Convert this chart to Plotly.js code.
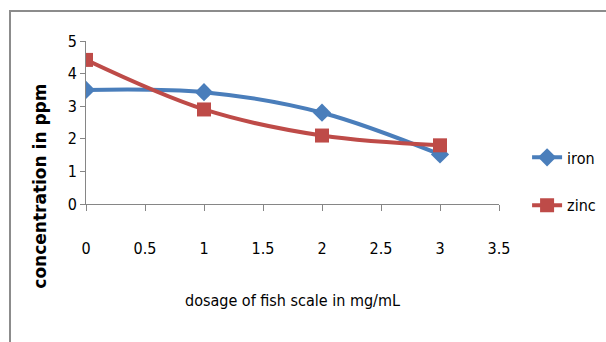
<!DOCTYPE html>
<html><head><meta charset="utf-8">
<script src="https://cdn.plot.ly/plotly-3.0.1.min.js"></script>
<style>html,body{margin:0;padding:0;background:#fff;overflow:hidden}
#frame{position:absolute;left:9px;top:10px;width:700px;height:400px;border-left:2px solid #8c8c8c;border-top:2px solid #8c8c8c;pointer-events:none}
#chart{position:absolute;left:0;top:0;width:606px;height:342px}</style>
</head><body>
<div id="chart"></div><div id="frame"></div>
<script>
const dosage = [0, 1, 2, 3];
const iron = [3.5, 3.43, 2.8, 1.52];
const zinc = [4.42, 2.9, 2.1, 1.8];
const xTicks = [0, 0.5, 1, 1.5, 2, 2.5, 3, 3.5];
const yTicks = [0, 1, 2, 3, 4, 5];
const narrow = "DejaVu Sans Condensed, Liberation Sans Narrow, sans-serif";
const data = [
  {x: dosage, y: iron, name: 'iron', type: 'scatter', mode: 'lines+markers',
   line: {color: '#4a7ebb', width: 4, shape: 'spline', smoothing: 1},
   marker: {symbol: 'diamond', size: 14, color: '#4a7ebb'}, legendgroup: 'a'},
  {x: dosage, y: zinc, name: 'zinc', type: 'scatter', mode: 'lines+markers',
   line: {color: '#be4b48', width: 4, shape: 'spline', smoothing: 1},
   marker: {symbol: 'square', size: 14, color: '#be4b48'}, legendgroup: 'b'}
];
const layout = {
  width: 606, height: 342,
  margin: {l: 86, r: 107, t: 41, b: 138, autoexpand: false},
  paper_bgcolor: '#fff', plot_bgcolor: '#fff',
  showlegend: true,
  legend: {x: 1.068, xanchor: 'left', y: 0.39, yanchor: 'top', traceorder: 'grouped', tracegroupgap: 24,
           font: {family: narrow, size: 16, color: '#000'}, bgcolor: 'rgba(0,0,0,0)'},
  xaxis: {range: [0, 3.5], tickvals: xTicks, ticktext: xTicks.map(String), showgrid: false, zeroline: false,
          showline: true, linecolor: '#868686', linewidth: 1, ticks: 'outside', ticklen: 6, tickcolor: '#868686',
          ticklabelstandoff: 24, tickfont: {family: narrow, size: 16, color: '#000'},
          title: {text: 'dosage of fish scale in mg/mL', font: {family: narrow, size: 16, color: '#000'}, standoff: 37}},
  yaxis: {range: [0, 5], tickvals: yTicks, showgrid: false, zeroline: false,
          showline: true, linecolor: '#868686', linewidth: 1, ticks: 'outside', ticklen: 5, tickcolor: '#868686',
          tickfont: {family: narrow, size: 16, color: '#000'}},
  annotations: [{text: '<b>concentration in ppm</b>', xref: 'paper', yref: 'paper', x: -0.11, y: 0.11,
                 xanchor: 'center', yanchor: 'middle', textangle: -90, showarrow: false,
                 font: {family: 'DejaVu Sans, sans-serif', size: 17, color: '#000'}}]
};
Plotly.newPlot('chart', data, layout, {displayModeBar: false, staticPlot: true});
</script>
</body></html>
